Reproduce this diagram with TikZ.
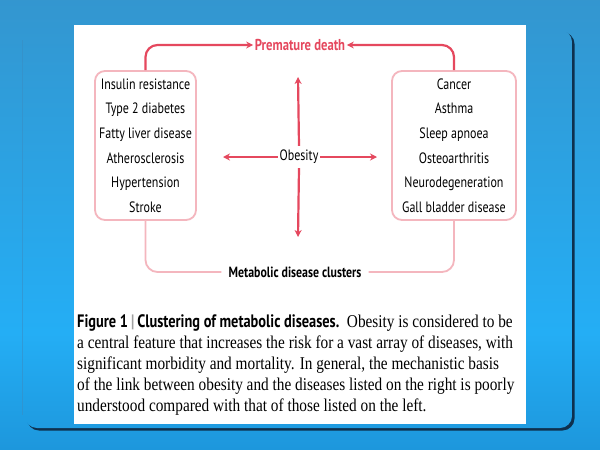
\documentclass[tikz,border=0pt]{standalone}
\usepackage{fontspec}
\usepackage{tikz}
\usetikzlibrary{arrows.meta}
\newfontfamily\diagfont[FakeStretch=0.8]{PT Sans}
\newfontfamily\capfont[FakeStretch=0.85]{Liberation Serif}
\definecolor{bgtop}{RGB}{62,134,182}
\definecolor{bgmid}{RGB}{36,174,245}
\definecolor{bgbot}{RGB}{16,106,172}
\definecolor{framedark}{RGB}{14,48,78}
\definecolor{arrowred}{RGB}{229,72,94}
\definecolor{boxpink}{RGB}{244,182,190}
\definecolor{capbar}{RGB}{160,160,160}
\pgfdeclareverticalshading{slidebg}{100bp}{color(0bp)=(bgbot); color(38bp)=(bgmid); color(100bp)=(bgtop)}

\begin{document}
\begin{tikzpicture}%
        [x=1pt, y=-1pt,
        arrow/.style={color=arrowred, line width=2.2pt, -{Stealth[length=7pt,width=7pt]}},
        bracket/.style={color=boxpink, line width=1.8pt, rounded corners=12pt},
        cluster/.style={draw=boxpink, line width=1.8pt, rounded corners=10pt, align=center,
                        font=\diagfont\fontsize{15}{24.6}\selectfont, inner sep=0pt},
        label/.style={font=\diagfont\fontsize{15}{17}\selectfont, inner sep=1.5pt}]

    \useasboundingbox (0,0) rectangle (600,450);
    %% Drawing the slide background
    \shade[shading=slidebg] (0,0) rectangle (600,450);
    \fill[framedark, rounded corners=12pt] (27,32) rectangle (574.5,430.5);
    \begin{scope}
    \clip[rounded corners=12pt] (25,30) rectangle (572,428);
    \shade[shading=slidebg] (0,0) rectangle (600,450);
    \end{scope}
    \draw[bgtop!80!bgmid, opacity=0.6] (22,40) -- (22,415);
    \fill[white] (74,25) rectangle (526,424);
    %%
    %% Drawing the nodes
    %%
    \node[label, font=\diagfont\bfseries\fontsize{15.8}{17}\selectfont, text=arrowred] (death) at (300,45) {Premature death};
    \node[cluster, minimum width=101pt, minimum height=149pt] (lbox) at (145.5,145.5)
        {Insulin resistance\\Type 2 diabetes\\Fatty liver disease\\Atherosclerosis\\Hypertension\\Stroke};
    \node[cluster, minimum width=124pt, minimum height=149pt] (rbox) at (454,145.5)
        {Cancer\\Asthma\\Sleep apnoea\\Osteoarthritis\\Neurodegeneration\\Gall bladder disease};
    \node[label, inner ysep=4pt] (obesity) at (299,157) {Obesity};
    \node[label, font=\diagfont\bfseries\fontsize{14.8}{17}\selectfont, inner xsep=7pt] (clusters) at (295,272) {Metabolic disease clusters};
    \coordinate (uptip) at (298,77);
    \coordinate (downtip) at (298,237);
    \coordinate (lefttip) at (223,157);
    \coordinate (righttip) at (377,157);
    %%
    %% Drawing the arrows
    %%
    \draw[arrow, rounded corners=12pt] (lbox.north) |- (death.west);
    \draw[arrow, rounded corners=12pt] (rbox.north) |- (death.east);
    \draw[arrow] (obesity.north) -- (uptip);
    \draw[arrow] (obesity.south) -- (downtip);
    \draw[arrow] (obesity.west) -- (lefttip);
    \draw[arrow] (obesity.east) -- (righttip);
    \draw[bracket] (lbox.south) |- (clusters.west);
    \draw[bracket] (rbox.south) |- (clusters.east);
    %%
    %% Drawing the caption
    %%
    \node[anchor=north west, align=left, inner sep=0pt, font=\capfont\fontsize{18}{21}\selectfont] (caption) at (77,314)
        {{\diagfont\bfseries Figure 1\,{\color{capbar}|}\,Clustering of metabolic diseases.}\ \ Obesity is considered to be\\
         a central feature that increases the risk for a vast array of diseases, with\\
         significant morbidity and mortality. In general, the mechanistic basis\\
         of the link between obesity and the diseases listed on the right is poorly\\
         understood compared with that of those listed on the left.};
    %%
    \end{tikzpicture}
\end{document}
